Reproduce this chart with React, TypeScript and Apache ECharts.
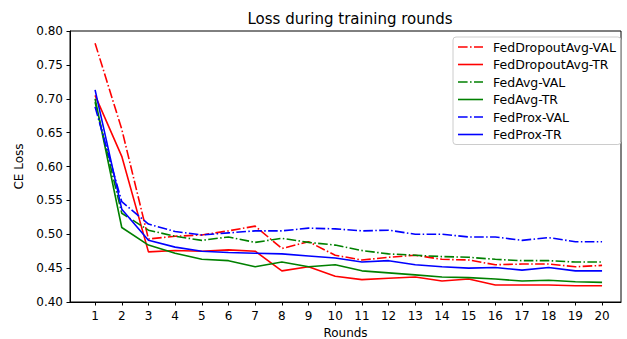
import React, { useEffect, useRef } from "react";
import * as echarts from "echarts";

const rounds = [1, 2, 3, 4, 5, 6, 7, 8, 9, 10, 11, 12, 13, 14, 15, 16, 17, 18, 19, 20];
const fedDropoutAvgVal = [0.782, 0.655, 0.493, 0.497, 0.499, 0.505, 0.512, 0.479, 0.489, 0.469, 0.462, 0.466, 0.469, 0.463, 0.462, 0.455, 0.456, 0.456, 0.452, 0.454];
const fedDropoutAvgTr = [0.705, 0.615, 0.474, 0.476, 0.475, 0.477, 0.475, 0.446, 0.452, 0.438, 0.433, 0.435, 0.437, 0.431, 0.434, 0.425, 0.425, 0.425, 0.424, 0.424];
const fedAvgVal = [0.695, 0.531, 0.506, 0.497, 0.491, 0.496, 0.488, 0.494, 0.488, 0.484, 0.476, 0.471, 0.469, 0.467, 0.466, 0.463, 0.461, 0.461, 0.459, 0.459];
const fedAvgTr = [0.700, 0.510, 0.484, 0.472, 0.463, 0.461, 0.452, 0.459, 0.452, 0.455, 0.446, 0.443, 0.440, 0.437, 0.436, 0.434, 0.431, 0.432, 0.430, 0.429];
const fedProxVal = [0.688, 0.548, 0.515, 0.504, 0.499, 0.502, 0.505, 0.505, 0.509, 0.508, 0.505, 0.506, 0.500, 0.500, 0.496, 0.496, 0.491, 0.495, 0.489, 0.489];
const fedProxTr = [0.713, 0.537, 0.491, 0.481, 0.475, 0.473, 0.472, 0.471, 0.468, 0.465, 0.459, 0.461, 0.455, 0.452, 0.450, 0.451, 0.447, 0.451, 0.446, 0.446];
const yTicks = [0.4, 0.45, 0.5, 0.55, 0.6, 0.65, 0.7, 0.75, 0.8];

const FONT = "DejaVu Sans";
const DASHDOT = [9.6, 2.4, 1.5, 2.4];
const ICON_SOLID = "path://M0,0M25,10M0,4.2h25v1.6h-25z";
const ICON_DASHDOT =
  "path://M0,0M25,10M0,4.2h9.6v1.6h-9.6zM12,4.2h1.6v1.6h-1.6zM16,4.2h9v1.6h-9z";

export default function App() {
  const ref = useRef<HTMLDivElement>(null);
  useEffect(() => {
    if (!ref.current) return;
    const chart = echarts.init(ref.current, null, { renderer: "svg" });
    const mk = (name: string, vals: number[], color: string, dash: boolean) => ({
      name,
      type: "line",
      data: rounds.map((r, i) => [r, vals[i]]),
      showSymbol: false,
      symbol: "none",
      lineStyle: { color, width: 1.6, type: dash ? DASHDOT : "solid" },
      itemStyle: { color },
    });
    const names = ["FedDropoutAvg-VAL", "FedDropoutAvg-TR", "FedAvg-VAL", "FedAvg-TR", "FedProx-VAL", "FedProx-TR"];
    chart.setOption({
      animation: false,
      backgroundColor: "#ffffff",
      title: {
        text: "Loss during training rounds",
        left: 345,
        textAlign: "center",
        top: 6,
        textStyle: { fontFamily: FONT, fontSize: 15, fontWeight: "normal", color: "#000" },
      },
      legend: {
        orient: "vertical",
        left: 453,
        top: 37,
        padding: [3, 5, 3, 5],
        borderColor: "#cccccc",
        borderWidth: 1,
        borderRadius: 3,
        itemWidth: 25,
        itemHeight: 10,
        itemGap: 3.5,
        textStyle: { fontFamily: FONT, fontSize: 12.5, lineHeight: 14, color: "#000", padding: [0, 0, 0, 5] },
        data: names.map((n, i) => ({ name: n, icon: i % 2 === 0 ? ICON_DASHDOT : ICON_SOLID })),
      },
      grid: {
        left: 70,
        right: 6,
        top: 31,
        bottom: 37,
        show: true,
        borderColor: "#000",
        borderWidth: 1,
        containLabel: false,
        outerBoundsMode: "none",
      },
      xAxis: {
        type: "value",
        min: 0.06,
        max: 20.71,
        name: "Rounds",
        nameLocation: "middle",
        nameGap: 22,
        nameTextStyle: { fontFamily: FONT, fontSize: 12, color: "#000" },
        splitLine: { show: false },
        axisLine: { lineStyle: { color: "#000" } },
        axisTick: { show: true, customValues: rounds, length: 3.5, lineStyle: { color: "#000" } },
        axisLabel: {
          customValues: rounds,
          fontFamily: FONT,
          fontSize: 12,
          color: "#000",
          margin: 8,
          formatter: (v: number) => String(Math.round(v)),
        },
      },
      yAxis: {
        type: "value",
        min: 0.4,
        max: 0.8,
        interval: 0.05,
        name: "CE Loss",
        nameLocation: "middle",
        nameGap: 44,
        nameTextStyle: { fontFamily: FONT, fontSize: 12, color: "#000" },
        splitLine: { show: false },
        axisLine: { show: true, lineStyle: { color: "#000" } },
        axisTick: { show: true, length: 3.5, lineStyle: { color: "#000" } },
        axisLabel: {
          fontFamily: FONT,
          fontSize: 12,
          color: "#000",
          margin: 7,
          customValues: yTicks,
          formatter: (v: number) => v.toFixed(2),
        },
      },
      series: [
        mk(names[0], fedDropoutAvgVal, "#ff0000", true),
        mk(names[1], fedDropoutAvgTr, "#ff0000", false),
        mk(names[2], fedAvgVal, "#008000", true),
        mk(names[3], fedAvgTr, "#008000", false),
        mk(names[4], fedProxVal, "#0000ff", true),
        mk(names[5], fedProxTr, "#0000ff", false),
      ],
    });
    return () => chart.dispose();
  }, []);
  return (
    <div
      ref={ref}
      style={{ position: "absolute", left: 0, top: 0, width: 627, height: 339, background: "#fff" }}
    />
  );
}
